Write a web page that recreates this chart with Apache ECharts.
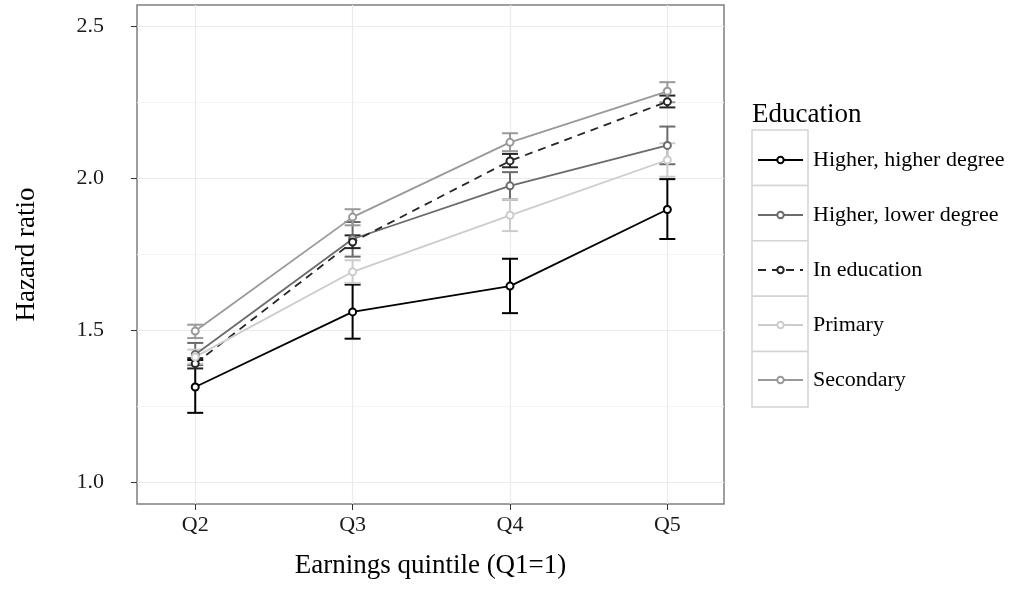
<!DOCTYPE html>
<html>
<head>
<meta charset="utf-8">
<script src="https://cdn.jsdelivr.net/npm/echarts@6.0.0/dist/echarts.min.js"></script>
<style>
html, body { margin: 0; padding: 0; background: #fff; }
#chart { width: 1017px; height: 609px; }
</style>
</head>
<body>
<div id="chart"></div>
<script>
// categories / tick labels
var quintiles = ['Q2', 'Q3', 'Q4', 'Q5'];
var yTicks = [1.0, 1.5, 2.0, 2.5];
var yMinorTicks = [1.25, 1.75, 2.25];
var groups = ['Higher, higher degree', 'Higher, lower degree', 'In education', 'Primary', 'Secondary'];

// hazard ratios and confidence limits, one array per group
var hrHigherHigher = [1.313, 1.560, 1.645, 1.897];
var loHigherHigher = [1.228, 1.472, 1.556, 1.800];
var hiHigherHigher = [1.402, 1.650, 1.735, 1.997];

var hrHigherLower = [1.420, 1.800, 1.975, 2.108];
var loHigherLower = [1.385, 1.742, 1.930, 2.046];
var hiHigherLower = [1.458, 1.856, 2.020, 2.170];

var hrInEducation = [1.390, 1.790, 2.057, 2.252];
var loInEducation = [1.374, 1.770, 2.036, 2.233];
var hiInEducation = [1.408, 1.812, 2.080, 2.272];

var hrPrimary = [1.412, 1.692, 1.878, 2.060];
var loPrimary = [1.390, 1.655, 1.826, 2.005];
var hiPrimary = [1.436, 1.730, 1.930, 2.115];

var hrSecondary = [1.497, 1.872, 2.118, 2.286];
var loSecondary = [1.474, 1.845, 2.089, 2.250];
var hiSecondary = [1.518, 1.898, 2.148, 2.316];

var FONT = 'Liberation Serif';
var colors = ['#000000', '#6b6b6b', '#262626', '#cccccc', '#999999'];
var lineTypes = ['solid', 'solid', [8, 6], 'solid', 'solid'];

var hrList = [hrHigherHigher, hrHigherLower, hrInEducation, hrPrimary, hrSecondary];
var loList = [loHigherHigher, loHigherLower, loInEducation, loPrimary, loSecondary];
var hiList = [hiHigherHigher, hiHigherLower, hiInEducation, hiPrimary, hiSecondary];

function errorBarItem(params, api) {
    var x = api.value(0);
    var lo = api.coord([x, api.value(1)]);
    var hi = api.coord([x, api.value(2)]);
    var half = 8;
    var style = { stroke: api.visual('color'), lineWidth: 2 };
    return {
        type: 'group',
        children: [
            { type: 'line', shape: { x1: lo[0], y1: lo[1], x2: hi[0], y2: hi[1] }, style: style },
            { type: 'line', shape: { x1: lo[0] - half, y1: lo[1], x2: lo[0] + half, y2: lo[1] }, style: style },
            { type: 'line', shape: { x1: hi[0] - half, y1: hi[1], x2: hi[0] + half, y2: hi[1] }, style: style }
        ]
    };
}

var series = [];
groups.forEach(function (name, g) {
    series.push({
        name: name,
        type: 'line',
        z: 3,
        data: hrList[g].map(function (v, i) { return [i, v]; }),
        symbol: 'emptyCircle',
        symbolSize: 7,
        lineStyle: { color: colors[g], width: 1.8, type: lineTypes[g] },
        itemStyle: { color: colors[g], borderWidth: 1.3 },
        animation: false
    });
});
groups.forEach(function (name, g) {
    series.push({
        name: name,
        type: 'custom',
        z: 2,
        renderItem: errorBarItem,
        itemStyle: { color: colors[g] },
        data: hrList[g].map(function (v, i) { return [i, loList[g][i], hiList[g][i]]; }),
        animation: false
    });
});

var chart = echarts.init(document.getElementById('chart'));
var option = {
    backgroundColor: '#ffffff',
    animation: false,
    textStyle: { fontFamily: FONT },
    title: {
        text: 'Education',
        left: 752,
        top: 101,
        padding: 0,
        textStyle: { fontFamily: FONT, fontSize: 27, fontWeight: 'normal', color: '#000' }
    },
    legend: {
        orient: 'vertical',
        left: 757,
        top: 148,
        padding: 0,
        itemWidth: 45,
        itemHeight: 8,
        itemGap: 31,
        selectedMode: false,
        data: groups,
        textStyle: { fontFamily: FONT, fontSize: 22, lineHeight: 24, color: '#000', padding: [0, 0, 0, 5] }
    },
    graphic: groups.map(function (n, i) {
        return {
            type: 'rect',
            z: -1,
            shape: { x: 752, y: 130 + i * 55.4, width: 56, height: 55.4 },
            style: { fill: '#ffffff', stroke: '#d4d4d4', lineWidth: 1.5 }
        };
    }),
    grid: {
        left: 137, right: 293, top: 5, bottom: 105,
        show: true,
        backgroundColor: '#ffffff',
        borderColor: '#7f7f7f',
        borderWidth: 1.5
    },
    xAxis: {
        type: 'value',
        min: -0.37,
        max: 3.36,
        name: 'Earnings quintile (Q1=1)',
        nameLocation: 'middle',
        nameGap: 48,
        nameTextStyle: { fontFamily: FONT, fontSize: 27, color: '#000' },
        axisLine: { show: false, onZero: false },
        axisTick: { show: true, length: 6, customValues: [0, 1, 2, 3], lineStyle: { color: '#333' } },
        axisLabel: {
            customValues: [0, 1, 2, 3],
            margin: 10,
            fontFamily: FONT, fontSize: 22, color: '#1a1a1a',
            formatter: function (v) { return quintiles[Math.round(v)]; }
        },
        splitLine: { show: true, lineStyle: { color: '#ebebeb', width: 1.2 } }
    },
    yAxis: [{
        type: 'value',
        min: 0.928,
        max: 2.57,
        name: 'Hazard ratio',
        nameLocation: 'middle',
        nameGap: 97,
        nameTextStyle: { fontFamily: FONT, fontSize: 27, color: '#000' },
        axisLine: { show: false, onZero: false },
        axisTick: { show: true, length: 6, customValues: yTicks, lineStyle: { color: '#333' } },
        axisLabel: {
            customValues: yTicks,
            margin: 33,
            fontFamily: FONT, fontSize: 22, color: '#1a1a1a',
            formatter: function (v) { return v.toFixed(1); }
        },
        splitLine: { show: true, lineStyle: { color: '#ebebeb', width: 1.2 } }
    }, {
        type: 'value',
        min: 0.928,
        max: 2.57,
        position: 'left',
        axisLine: { show: false, onZero: false },
        axisTick: { show: false, customValues: yMinorTicks },
        axisLabel: { show: false, customValues: yMinorTicks },
        splitLine: { show: true, lineStyle: { color: '#f5f5f5', width: 1 } }
    }],
    series: series
};
chart.setOption(option);
</script>
</body>
</html>
